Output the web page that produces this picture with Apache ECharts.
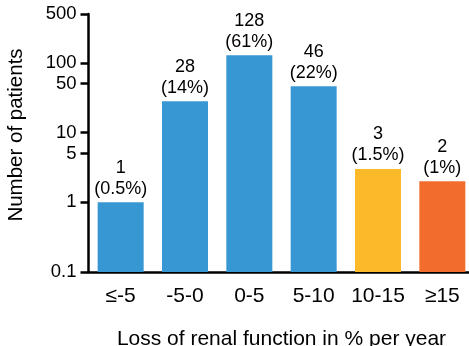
<!DOCTYPE html>
<html>
<head>
<meta charset="utf-8">
<script src="https://cdn.jsdelivr.net/npm/echarts@6/dist/echarts.min.js"></script>
<style>
  html, body { margin: 0; padding: 0; background: #fff; }
  #chart { width: 469px; height: 346px; }
</style>
</head>
<body>
<div id="chart"></div>
<script>
// Yearly loss of renal function, grouped in 5 % bins
const categories = ['≤-5', '-5-0', '0-5', '5-10', '10-15', '≥15'];
const patientCounts = [1, 28, 128, 46, 3, 2];
const patientShares = ['0.5%', '14%', '61%', '22%', '1.5%', '1%'];
const barColors = ['#3797d3', '#3797d3', '#3797d3', '#3797d3', '#fcb92a', '#f26c2e'];
const yTickValues = [0.1, 1, 5, 10, 50, 100, 500];

const FONT = 'Liberation Sans, Arial, Helvetica, sans-serif';

const chart = echarts.init(document.getElementById('chart'), null, { renderer: 'canvas' });

chart.setOption({
  animation: false,
  grid: { left: 88.5, right: -5.5, top: 14, bottom: 74, containLabel: false, outerBoundsMode: 'none' },
  xAxis: {
    type: 'category',
    data: categories,
    name: 'Loss of renal function in % per year',
    nameLocation: 'middle',
    nameGap: 57,
    nameTextStyle: { color: '#000', fontFamily: FONT, fontSize: 21 },
    axisLine: { lineStyle: { color: '#000', width: 2.5 } },
    axisTick: { alignWithLabel: true, interval: 0, length: 9, lineStyle: { color: '#000', width: 2.5 } },
    axisLabel: { color: '#000', fontFamily: FONT, fontSize: 21, margin: 14, interval: 0 }
  },
  yAxis: {
    type: 'log',
    logBase: 10,
    min: 0.1,
    max: 500,
    startValue: 0.1,
    name: 'Number of patients',
    nameLocation: 'middle',
    nameGap: 62,
    nameRotate: 90,
    nameTextStyle: { color: '#000', fontFamily: FONT, fontSize: 20.5, padding: [0, 0, 0, 16] },
    splitLine: { show: false },
    axisLine: { show: true, lineStyle: { color: '#000', width: 2.5 } },
    axisTick: { show: true, length: 8, customValues: yTickValues, lineStyle: { color: '#000', width: 2.5 } },
    axisLabel: {
      color: '#000', fontFamily: FONT, fontSize: 18.5, margin: 12,
      customValues: yTickValues,
      formatter: v => String(v)
    }
  },
  series: [{
    type: 'bar',
    barWidth: 46,
    data: patientCounts.map((v, i) => ({ value: v, itemStyle: { color: barColors[i] } })),
    label: {
      show: true,
      position: 'top',
      distance: 3,
      color: '#000',
      fontFamily: FONT,
      fontSize: 18,
      lineHeight: 21,
      align: 'center',
      formatter: p => p.value + '\n(' + patientShares[p.dataIndex] + ')'
    }
  }]
});
</script>
</body>
</html>
